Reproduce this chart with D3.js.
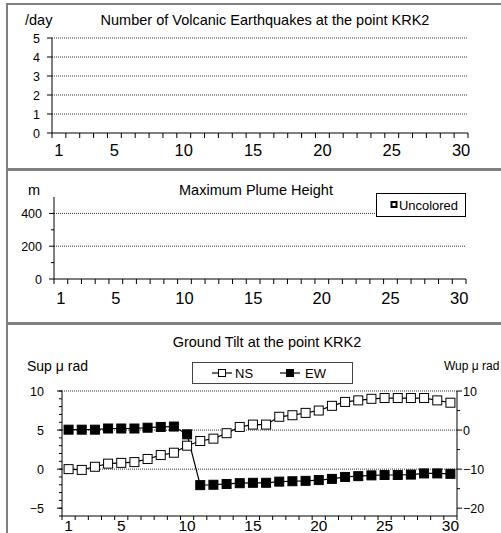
<!DOCTYPE html>
<html>
<head>
<meta charset="utf-8">
<script src="https://cdn.jsdelivr.net/npm/d3@7"></script>
<style>
  body { margin: 0; background: #fff; }
  svg text { font-family: "Liberation Sans", Arial, sans-serif; fill: #000; }
</style>
</head>
<body>
<div id="chart"></div>
<script>
// data
var days = d3.range(1, 31);
var dayLabels = [1, 5, 10, 15, 20, 25, 30];
var quakes = days.map(function () { return 0; });   // no earthquakes this month
var plume = days.map(function () { return null; }); // no plume observed
var quakeTicks = [0, 1, 2, 3, 4, 5];
var plumeTicks = [0, 200, 400];
var tiltLeftTicks = [-5, 0, 5, 10];
var tiltRightTicks = [-20, -10, 0, 10];
var ns = [0.0, -0.1, 0.3, 0.7, 0.8, 0.9, 1.3, 1.8, 2.1, 3.0, 3.6, 3.9, 4.6, 5.4, 5.7,
          5.7, 6.7, 6.9, 7.2, 7.5, 8.1, 8.6, 8.8, 9.0, 9.1, 9.1, 9.1, 9.1, 8.8, 8.5];
var ew = [0.1, 0.1, 0.1, 0.4, 0.4, 0.4, 0.6, 0.8, 0.9, -1.1, -14.1, -14.0, -13.8, -13.6, -13.5,
          -13.5, -13.2, -13.1, -13.0, -12.8, -12.5, -12.0, -11.8, -11.6, -11.5, -11.5, -11.4, -11.1, -11.1, -11.2];

var width = 501, height = 533;
var svg = d3.select("#chart").append("svg")
	.attr("width", width).attr("height", height);

// panel frames
[[4, 169], [170, 323], [324, 560]].forEach(function (p) {
	svg.append("rect")
		.attr("x", 7).attr("y", p[0])
		.attr("width", 520).attr("height", p[1] - p[0])
		.attr("fill", "none")
		.attr("stroke", "#808080")
		.attr("stroke-width", 2);
});

function xAxis(g, x0, x1, y, labelSize, labelDy, tick) {
	var x = d3.scaleLinear().domain([0.5, 30.5]).range([x0, x1]);
	g.append("line").attr("x1", x0).attr("x2", x1).attr("y1", y).attr("y2", y)
		.attr("stroke", "#000");
	g.selectAll(null).data(d3.range(0.5, 31, 1)).enter().append("line")
		.attr("x1", function (d) { return x(d); }).attr("x2", function (d) { return x(d); })
		.attr("y1", y).attr("y2", y + (tick || 5))
		.attr("stroke", "#000");
	g.selectAll(null).data(dayLabels).enter().append("text")
		.attr("x", function (d) { return x(d); })
		.attr("y", y + labelDy)
		.attr("text-anchor", "middle")
		.style("font-size", labelSize + "px")
		.text(function (d) { return d; });
	return x;
}

function grid(g, x0, x1, ys) {
	g.selectAll(null).data(ys).enter().append("line")
		.attr("x1", x0).attr("x2", x1)
		.attr("y1", function (d) { return d; }).attr("y2", function (d) { return d; })
		.attr("stroke", "#333")
		.attr("stroke-width", 1)
		.attr("stroke-dasharray", "1,1");
}

function yTicks(g, x, y, vals, len, side) {
	g.selectAll(null).data(vals).enter().append("line")
		.attr("x1", x).attr("x2", x + side * len)
		.attr("y1", function (d) { return y(d); }).attr("y2", function (d) { return y(d); })
		.attr("stroke", "#000");
}

function yLabels(g, x, y, vals, anchor) {
	g.selectAll(null).data(vals).enter().append("text")
		.attr("x", x).attr("y", function (d) { return y(d); })
		.attr("dy", "0.36em")
		.attr("text-anchor", anchor)
		.style("font-size", "12.5px")
		.text(function (d) { return d < 0 ? "\u2212" + Math.abs(d) : d; });
}

function title(g, x, y, t, size) {
	g.append("text").attr("x", x).attr("y", y)
		.attr("text-anchor", "middle")
		.style("font-size", (size || 14.5) + "px")
		.text(t);
}

// Panel 1 - volcanic earthquakes
var p1 = svg.append("g");
var y1 = d3.scaleLinear().domain([0, 5]).range([133, 38]);
title(p1, 265, 25, "Number of Volcanic Earthquakes at the point KRK2");
p1.append("text").attr("x", 25).attr("y", 25).style("font-size", "14.5px").text("/day");
grid(p1, 52, 468, quakeTicks.slice(1).map(y1));
var x1 = xAxis(p1, 52, 468, 133, 16.5, 23);
p1.append("line").attr("x1", 52).attr("x2", 52).attr("y1", y1(5)).attr("y2", y1(0)).attr("stroke", "#000");
yTicks(p1, 52, y1, quakeTicks, 5, -1);
yLabels(p1, 40, y1, quakeTicks, "end");
p1.selectAll(".bar").data(quakes).enter().append("rect")
	.attr("x", function (d, i) { return x1(days[i] - 0.3); })
	.attr("width", x1(1.3) - x1(0.7))
	.attr("y", function (d) { return y1(d); })
	.attr("height", function (d) { return y1(0) - y1(d); })
	.attr("fill", "#000");

// Panel 2 - plume height
var p2 = svg.append("g");
var y2 = d3.scaleLinear().domain([0, 500]).range([279, 197]);
title(p2, 256, 195, "Maximum Plume Height");
p2.append("text").attr("x", 28).attr("y", 195).style("font-size", "14.5px").text("m");
grid(p2, 54, 466, [200, 400].map(y2));
var x2 = xAxis(p2, 54, 466, 279, 16.5, 25);
p2.append("line").attr("x1", 54).attr("x2", 54).attr("y1", y2(500)).attr("y2", y2(0)).attr("stroke", "#000");
yTicks(p2, 54, y2, plumeTicks, 5, -1);
yTicks(p2, 54, y2, [100, 300], 3, -1);
yLabels(p2, 42, y2, plumeTicks, "end");
p2.selectAll(".pt").data(plume.filter(function (d) { return d != null; })).enter()
	.append("rect").attr("width", 6).attr("height", 6);
var lg2 = p2.append("g");
lg2.append("rect").attr("x", 376.5).attr("y", 193.5).attr("width", 89).attr("height", 23)
	.attr("fill", "#fff").attr("stroke", "#000");
lg2.append("rect").attr("x", 391.5).attr("y", 202).attr("width", 5).attr("height", 5)
	.attr("fill", "#fff").attr("stroke", "#000").attr("stroke-width", 2);
lg2.append("text").attr("x", 399).attr("y", 209.5).attr("textLength", 59)
	.attr("lengthAdjust", "spacingAndGlyphs")
	.style("font-size", "13px").text("Uncolored");

// Panel 3 - ground tilt
var p3 = svg.append("g");
var yl = d3.scaleLinear().domain([-6, 10]).range([516, 391]);
var yr = d3.scaleLinear().domain([-22, 10]).range([516, 391]);
title(p3, 267, 347, "Ground Tilt at the point KRK2");
p3.append("text").attr("x", 27).attr("y", 371).style("font-size", "14px").text("Sup \u03bc rad");
p3.append("text").attr("x", 444).attr("y", 370)
	.style("font-size", "12px").text("Wup \u03bc rad");
grid(p3, 62, 457, [0, 5, 10].map(yl));
var x3 = xAxis(p3, 62, 457, 516, 15.5, 15, 4);
p3.append("line").attr("x1", 62).attr("x2", 62).attr("y1", 391).attr("y2", 516).attr("stroke", "#000");
p3.append("line").attr("x1", 457).attr("x2", 457).attr("y1", 391).attr("y2", 516).attr("stroke", "#000");
yTicks(p3, 62, yl, tiltLeftTicks, 5, -1);
yTicks(p3, 62, yl, d3.range(-6, 11), 3, -1);
yTicks(p3, 457, yr, tiltRightTicks, 5, 1);
yTicks(p3, 457, yr, [-15, -5, 5], 3, 1);
yLabels(p3, 44, yl, tiltLeftTicks, "end");
yLabels(p3, 463, yr, tiltRightTicks, "start");

function series(g, vals, y, fill) {
	var line = d3.line()
		.x(function (d, i) { return x3(days[i]); })
		.y(function (d) { return y(d); });
	g.append("path").datum(vals).attr("d", line)
		.attr("fill", "none").attr("stroke", "#000").attr("stroke-width", 1.2);
	g.selectAll(null).data(vals).enter().append("rect")
		.attr("x", function (d, i) { return x3(days[i]) - 4.5; })
		.attr("y", function (d) { return y(d) - 4.5; })
		.attr("width", 9).attr("height", 9)
		.attr("fill", fill).attr("stroke", "#000");
}
series(p3, ew, yr, "#000");
series(p3, ns, yl, "#fff");

var lg3 = p3.append("g");
lg3.append("rect").attr("x", 192.5).attr("y", 362.5).attr("width", 160).attr("height", 21)
	.attr("fill", "#fff").attr("stroke", "#444");
[[212, 232, 222, "#fff", "NS", 235], [280, 300, 290, "#000", "EW", 305]].forEach(function (e) {
	lg3.append("line").attr("x1", e[0]).attr("x2", e[1]).attr("y1", 373).attr("y2", 373)
		.attr("stroke", "#000").attr("stroke-width", 1.2);
	lg3.append("rect").attr("x", e[2] - 3.5).attr("y", 369.5).attr("width", 7).attr("height", 7)
		.attr("fill", e[3]).attr("stroke", "#000");
	lg3.append("text").attr("x", e[5]).attr("y", 378).style("font-size", "13px").text(e[4]);
});
</script>
</body>
</html>
